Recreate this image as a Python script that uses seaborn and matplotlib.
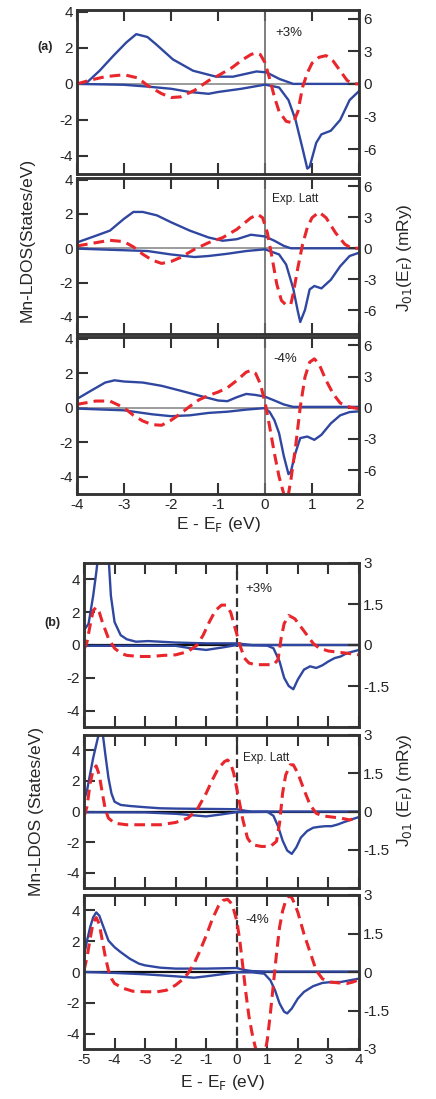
import matplotlib
matplotlib.use("Agg")
import matplotlib.pyplot as plt
import seaborn as sns

# ---- panel (a): E - E_F from -4 to 2 eV ----
a1_up_x = [-4, -3.8, -3.52, -3.23, -2.95, -2.74, -2.5, -2.31, -1.96, -1.53, -1.04, -0.68, -0.18, 0.03, 0.31, 0.6, 2.0]
a1_up_y = [0, 0.05, 0.73, 1.55, 2.3, 2.76, 2.6, 2.18, 1.36, 0.73, 0.4, 0.4, 0.69, 0.64, 0.27, 0.0, 0.0]
a1_dn_x = [-4, -3, -2.5, -2, -1.6, -1.2, -1, -0.5, 0, 0.3, 0.5, 0.65, 0.8, 0.9, 0.95, 1.09, 1.2, 1.4, 1.6, 1.8, 2.0]
a1_dn_y = [0, -0.05, -0.15, -0.27, -0.45, -0.55, -0.45, -0.27, -0.04, -0.2, -0.9, -2.0, -3.6, -4.7, -4.6, -3.27, -2.8, -2.6, -2.0, -0.9, -0.4]
a1_j_x = [-4, -3.7, -3.4, -3.0, -2.7, -2.5, -2.2, -2.0, -1.8, -1.5, -1.2, -1.0, -0.7, -0.5, -0.3, -0.2, -0.1, 0.0,
          0.1, 0.2, 0.3, 0.45, 0.6, 0.7, 0.8, 0.9, 1.0, 1.15, 1.3, 1.45, 1.6, 1.75, 1.9, 2.0]
a1_j_y = [0, 0.36, 0.66, 0.84, 0.54, -0.15, -0.9, -1.26, -1.2, -0.6, 0.3, 0.75, 1.5, 2.16, 2.7, 2.85, 2.7, 1.95,
          0.45, -1.2, -2.55, -3.45, -3.6, -2.55, -0.3, 1.0, 1.9, 2.45, 2.6, 2.1, 1.2, 0.3, 0.0, 0.0]

a2_up_x = [-4, -3.6, -3.3, -3.0, -2.8, -2.6, -2.3, -2.0, -1.6, -1.2, -0.9, -0.6, -0.3, 0.0, 0.2, 0.4, 0.55, 2.0]
a2_up_y = [0.34, 0.73, 1.03, 1.72, 2.12, 2.12, 1.92, 1.52, 1.03, 0.63, 0.44, 0.53, 0.79, 0.69, 0.44, 0.14, 0.0, 0.0]
a2_dn_x = [-4, -2.5, -2.0, -1.5, -1.2, -0.8, -0.4, 0.0, 0.3, 0.45, 0.6, 0.7, 0.75, 0.85, 0.95, 1.05, 1.2, 1.4, 1.6, 1.8, 2.0]
a2_dn_y = [-0.02, -0.16, -0.36, -0.51, -0.45, -0.32, -0.16, -0.06, -0.36, -0.95, -2.34, -3.7, -4.3, -3.6, -2.4, -2.2,
           -2.34, -1.84, -1.05, -0.45, -0.26]
a2_j_x = [-4, -3.6, -3.3, -3.0, -2.8, -2.6, -2.4, -2.2, -2.0, -1.8, -1.5, -1.2, -0.9, -0.6, -0.3, -0.15, -0.05, 0.05,
          0.15, 0.25, 0.35, 0.45, 0.55, 0.6, 0.7, 0.8, 0.9, 1.0, 1.15, 1.3, 1.5, 1.7, 1.85, 2.0]
a2_j_y = [0.22, 0.54, 0.77, 0.64, 0.13, -0.58, -1.15, -1.47, -1.28, -0.9, -0.1, 0.54, 1.03, 1.83, 2.95, 3.27, 2.95, 1.5,
          -0.9, -3.46, -5.06, -5.5, -5.4, -4.4, -1.86, 0.38, 2.0, 2.95, 3.5, 2.95, 1.5, 0.38, 0.0, 0.0]

a3_up_x = [-4, -3.7, -3.4, -3.2, -3.0, -2.6, -2.2, -1.8, -1.4, -1.0, -0.8, -0.6, -0.4, -0.2, 0.0, 0.2, 0.4, 0.6, 2.0]
a3_up_y = [0.51, 0.99, 1.46, 1.59, 1.52, 1.46, 1.27, 0.99, 0.70, 0.42, 0.38, 0.61, 0.8, 0.74, 0.64, 0.42, 0.19, 0.05, 0.05]
a3_dn_x = [-4, -3, -2.4, -2.0, -1.6, -1.2, -0.8, -0.4, 0.0, 0.1, 0.2, 0.3, 0.4, 0.5, 0.55, 0.65, 0.75, 0.9, 1.05,
           1.2, 1.4, 1.6, 1.8, 2.0]
a3_dn_y = [-0.05, -0.15, -0.38, -0.49, -0.44, -0.3, -0.23, -0.11, -0.02, -0.25, -0.72, -1.48, -2.8, -3.85, -3.7, -2.6,
           -1.76, -1.67, -1.86, -1.57, -0.91, -0.44, -0.25, -0.21]
a3_j_x = [-4, -3.6, -3.3, -3.0, -2.8, -2.6, -2.4, -2.2, -2.0, -1.8, -1.6, -1.4, -1.2, -1.0, -0.8, -0.6, -0.4, -0.3,
          -0.2, -0.1, 0.0, 0.1, 0.2, 0.3, 0.4, 0.48, 0.55, 0.65, 0.75, 0.85, 0.95, 1.05, 1.15, 1.3, 1.45, 1.6, 1.8, 2.0]
a3_j_y = [0.32, 0.64, 0.64, 0.0, -0.73, -1.28, -1.63, -1.69, -1.21, -0.58, 0.13, 0.77, 1.18, 1.5, 1.92, 2.62, 3.42, 3.58,
          3.3, 2.3, 0.54, -1.85, -4.4, -6.65, -8.3, -8.8, -6.96, -3.77, 0.06, 2.94, 4.38, 4.7, 4.2, 2.62, 1.34, 0.45, 0.06, -0.1]

# ---- panel (b): E - E_F from -5 to 4 eV ----
b1_up_x = [-5, -4.85, -4.7, -4.6, -4.5, -4.35, -4.2, -4.12, -4.0, -3.8, -3.6, -3.3, -2.9, -2.0, -1.0, 0.0, 0.5, 4.0]
b1_up_y = [0.9, 1.3, 3.0, 4.4, 6.0, 7.0, 5.5, 3.0, 1.4, 0.6, 0.35, 0.2, 0.24, 0.15, 0.1, 0.1, 0.0, 0.0]
b1_dn_x = [-5, -2, -1.5, -1, -0.5, 0, 1.0, 1.2, 1.4, 1.55, 1.7, 1.85, 2.0, 2.2, 2.4, 2.6, 2.8, 3.0, 3.2, 3.4, 3.6, 3.8, 4.0]
b1_dn_y = [-0.05, -0.05, -0.2, -0.3, -0.16, 0, -0.04, -0.2, -1.0, -2.0, -2.5, -2.7, -2.1, -1.5, -1.3, -1.4, -1.24,
           -1.0, -0.8, -0.7, -0.5, -0.4, -0.3]
b1_j_x = [-5, -4.9, -4.8, -4.7, -4.6, -4.5, -4.4, -4.2, -4.0, -3.8, -3.6, -3.2, -2.8, -2.4, -2.0, -1.6, -1.3, -1.1,
          -0.9, -0.7, -0.5, -0.35, -0.2, -0.05, 0.1, 0.25, 0.4, 0.6, 0.9, 1.2, 1.35, 1.45, 1.55, 1.7, 1.9, 2.1, 2.3,
          2.5, 2.7, 3.0, 3.3, 3.6, 4.0]
b1_j_y = [-0.18, 0.12, 0.72, 1.26, 1.38, 1.2, 0.84, 0.24, -0.12, -0.3, -0.38, -0.42, -0.42, -0.38, -0.36, -0.24, 0.0,
          0.36, 0.84, 1.26, 1.46, 1.46, 1.2, 0.6, 0.0, -0.48, -0.66, -0.72, -0.72, -0.72, -0.54, 0.24, 0.78, 1.08,
          0.96, 0.66, 0.36, 0.06, -0.12, -0.22, -0.26, -0.3, -0.36]

b2_up_x = [-5, -4.9, -4.8, -4.7, -4.6, -4.5, -4.4, -4.3, -4.2, -4.1, -4.0, -3.8, -3.5, -3.0, -2.5, -2.0, -1.0, 0.0,
           0.3, 0.5, 4.0]
b2_up_y = [0.74, 1.38, 2.45, 3.5, 4.36, 5.2, 5.3, 3.7, 2.2, 1.17, 0.64, 0.43, 0.36, 0.28, 0.21, 0.19, 0.17, 0.15,
           0.04, 0.0, 0.0]
b2_dn_x = [-5, -3, -2, -1, -0.5, 0, 1.0, 1.2, 1.35, 1.5, 1.65, 1.8, 1.95, 2.1, 2.3, 2.5, 2.7, 2.9, 3.1, 3.3, 3.5, 3.8, 4.0]
b2_dn_y = [-0.05, -0.06, -0.15, -0.32, -0.19, -0.04, -0.02, -0.28, -0.96, -1.9, -2.55, -2.77, -2.34, -1.7, -1.28,
           -1.06, -1.0, -0.96, -0.96, -0.85, -0.7, -0.49, -0.36]
b2_j_x = [-5, -4.9, -4.8, -4.7, -4.6, -4.5, -4.4, -4.3, -4.2, -4.0, -3.6, -3.0, -2.5, -2.0, -1.6, -1.3, -1.0, -0.8,
          -0.6, -0.4, -0.3, -0.2, -0.1, 0.05, 0.2, 0.35, 0.5, 0.8, 1.1, 1.3, 1.4, 1.5, 1.6, 1.75, 1.85, 2.0, 2.2,
          2.4, 2.6, 2.8, 3.0, 3.4, 3.7, 4.0]
b2_j_y = [-0.2, 0.2, 1.1, 1.63, 1.79, 1.43, 0.72, 0.07, -0.26, -0.46, -0.52, -0.52, -0.52, -0.43, -0.26, 0.07, 0.72,
          1.24, 1.7, 1.96, 2.02, 1.89, 1.5, 0.59, -0.33, -1.04, -1.3, -1.37, -1.37, -1.17, -0.46, 0.72, 1.43, 1.83,
          1.83, 1.5, 0.85, 0.26, -0.07, -0.17, -0.2, -0.26, -0.33, -0.22]

b3_up_x = [-5, -4.9, -4.8, -4.7, -4.6, -4.5, -4.4, -4.3, -4.2, -4.0, -3.8, -3.5, -3.2, -3.0, -2.5, -2.0, -1.0, 0.0,
           0.2, 0.5, 1.0, 4.0]
b3_up_y = [1.08, 2.04, 2.9, 3.55, 3.87, 3.66, 3.12, 2.58, 2.04, 1.61, 1.29, 0.86, 0.54, 0.43, 0.28, 0.22, 0.22, 0.26,
           0.15, 0.06, 0.03, 0.03]
b3_dn_x = [-5, -4, -3, -2, -1.4, -1.0, -0.5, 0, 0.5, 0.9, 1.1, 1.25, 1.4, 1.55, 1.65, 1.8, 2.0, 2.2, 2.5, 2.8, 3.1,
           3.4, 3.7, 4.0]
b3_dn_y = [0, -0.06, -0.15, -0.28, -0.37, -0.28, -0.15, -0.02, -0.02, -0.11, -0.54, -1.18, -2.04, -2.58, -2.69,
           -2.37, -1.72, -1.29, -0.92, -0.71, -0.65, -0.65, -0.54, -0.43]
b3_j_x = [-5, -4.9, -4.8, -4.7, -4.6, -4.5, -4.4, -4.3, -4.2, -4.1, -4.0, -3.7, -3.4, -3.0, -2.6, -2.3, -2.0, -1.8,
          -1.6, -1.4, -1.2, -1.0, -0.8, -0.6, -0.45, -0.3, -0.15, 0.0, 0.1, 0.2, 0.3, 0.4, 0.5, 0.6, 0.7, 0.8, 0.9,
          1.0, 1.1, 1.2, 1.3, 1.4, 1.5, 1.6, 1.7, 1.8, 1.9, 2.0, 2.2, 2.4, 2.6, 2.8, 3.0, 3.3, 3.6, 3.8, 4.0]
b3_j_y = [0.06, 0.58, 1.29, 1.93, 2.12, 1.87, 1.22, 0.58, 0.06, -0.26, -0.45, -0.64, -0.75, -0.77, -0.77, -0.71,
          -0.51, -0.32, -0.06, 0.32, 0.84, 1.42, 2.06, 2.57, 2.79, 2.83, 2.64, 2.0, 1.22, 0.19, -0.84, -1.74, -2.38,
          -2.9, -3.3, -3.4, -3.3, -2.64, -1.61, -0.45, 0.71, 1.74, 2.38, 2.77, 2.96, 2.9, 2.64, 2.32, 1.48, 0.77,
          0.06, -0.26, -0.39, -0.42, -0.45, -0.39, -0.3]

a_tags = ["+3%", "Exp. Latt", "-4%"]
b_tags = ["+3%", "Exp. Latt", "-4%"]
a_xticks = [-4, -3, -2, -1, 0, 1, 2]
b_xticks = [-5, -4, -3, -2, -1, 0, 1, 2, 3, 4]
dos_ticks = [-4, -2, 0, 2, 4]
a_j_ticks = [-6, -3, 0, 3, 6]
b_j_ticks = [-3, -1.5, 0, 1.5, 3]
b_j_labels = ["-3", "-1.5", "0", "1.5", "3"]

sns.set_style("ticks")
plt.rcParams['font.family'] = ['Liberation Sans', 'DejaVu Sans']
plt.rcParams['axes.unicode_minus'] = False

W, H = 436, 1099
BLUE = "#2f47a0"
RED = "#e8262b"
SPINE = "#333333"

fig = plt.figure(figsize=(W / 100, H / 100), dpi=100)


def box(x0, y0, x1, y1):
    return [x0 / W, 1 - y1 / H, (x1 - x0) / W, (y1 - y0) / H]


def draw(rect, up, dn, jj, xlim, xticks, ylim, jlim, jticks, jlabels, tag, tagpos, style, bottom):
    ax = fig.add_axes(rect)
    ax2 = ax.twinx()
    if style == "a":
        ax.axhline(0, color="#8a8a8a", lw=1.2, zorder=1)
        ax.axvline(0, color="#6a6a6a", lw=1.2, zorder=1)
    else:
        ax.axhline(0, color="#111111", lw=1.6, zorder=1)
        ax.axvline(0, color="#333333", lw=1.6, ls=(0, (4, 2)), zorder=1)
    sns.lineplot(x=up[0], y=up[1], ax=ax, color=BLUE, lw=1.7, sort=False)
    sns.lineplot(x=dn[0], y=dn[1], ax=ax, color=BLUE, lw=1.7, sort=False)
    sns.lineplot(x=jj[0], y=jj[1], ax=ax2, color=RED, lw=2.2, sort=False, dashes=False,
                 linestyle=(0, (3.5, 2)))
    ax.set_xlim(xlim)
    ax.set_ylim(ylim)
    ax2.set_ylim(jlim)
    ax.set_xticks(xticks)
    ax.set_yticks(dos_ticks)
    ax2.set_yticks(jticks)
    ax2.set_yticklabels(jlabels)
    ax.set_xlabel("")
    ax.set_ylabel("")
    ax2.set_ylabel("")
    ax.tick_params(direction="in", top=True, length=8, width=1.5, color=SPINE,
                   labelsize=11, pad=3, labelbottom=bottom)
    ax2.tick_params(direction="in", length=8, width=1.5, color=SPINE, labelsize=11, pad=3)
    for a in (ax, ax2):
        for s in a.spines.values():
            s.set_color(SPINE)
            s.set_linewidth(1.8)
    ax.text(tagpos[0], tagpos[1], tag, fontsize=8.5 if len(tag) > 4 else 9.5, color="#222222", va="center")
    return ax


# panel (a)
a_rows = [(10, 174), (178, 334), (337, 494)]
a_data = [((a1_up_x, a1_up_y), (a1_dn_x, a1_dn_y), (a1_j_x, a1_j_y)),
          ((a2_up_x, a2_up_y), (a2_dn_x, a2_dn_y), (a2_j_x, a2_j_y)),
          ((a3_up_x, a3_up_y), (a3_dn_x, a3_dn_y), (a3_j_x, a3_j_y))]
a_tagpos = [(0.22, 2.85), (0.15, 2.9), (0.17, 2.8)]
for i, ((y0, y1), d) in enumerate(zip(a_rows, a_data)):
    draw(box(77, y0, 359, y1), d[0], d[1], d[2], (-4, 2), a_xticks, (-5, 4.1), (-8.3, 6.8),
         a_j_ticks, [str(t) for t in a_j_ticks], a_tags[i], a_tagpos[i], "a", i == 2)

# panel (b)
b_rows = [(563, 727), (735, 888), (895, 1049)]
b_data = [((b1_up_x, b1_up_y), (b1_dn_x, b1_dn_y), (b1_j_x, b1_j_y)),
          ((b2_up_x, b2_up_y), (b2_dn_x, b2_dn_y), (b2_j_x, b2_j_y)),
          ((b3_up_x, b3_up_y), (b3_dn_x, b3_dn_y), (b3_j_x, b3_j_y))]
b_tagpos = [(0.28, 3.4), (0.19, 3.5), (0.27, 3.4)]
for i, ((y0, y1), d) in enumerate(zip(b_rows, b_data)):
    labels = b_j_labels if i == 2 else [""] + b_j_labels[1:]
    draw(box(84, y0, 359, y1), d[0], d[1], d[2], (-5, 4), b_xticks, (-5, 5), (-3, 3),
         b_j_ticks, labels, b_tags[i], b_tagpos[i], "b", i == 2)

# axis titles and panel letters
fig.text(45 / W, 1 - 47 / H, "(a)", fontsize=9, fontweight="bold", ha="center", va="center")
fig.text(52 / W, 1 - 623 / H, "(b)", fontsize=9, fontweight="bold", ha="center", va="center")

fig.text(27 / W, 1 - 240 / H, "Mn-LDOS(States/eV)", rotation=90, fontsize=12.5, ha="center", va="center")
fig.text(404 / W, 1 - 258 / H, r"J$_{01}$(E$_{\rm F}$) (mRy)", rotation=90, fontsize=12.5, ha="center", va="center")
fig.text(218 / W, 1 - 525 / H, r"E - E$_{\rm F}$ (eV)", fontsize=12.5, ha="center", va="center")

fig.text(37 / W, 1 - 811 / H, "Mn-LDOS (States/eV)", rotation=90, fontsize=12.5, ha="center", va="center")
fig.text(404 / W, 1 - 790 / H, r"J$_{01}$ (E$_{\rm F}$) (mRy)", rotation=90, fontsize=12.5, ha="center", va="center")
fig.text(222 / W, 1 - 1083 / H, r"E - E$_{\rm F}$ (eV)", fontsize=12.5, ha="center", va="center")

fig.savefig("out.png", dpi=100)
